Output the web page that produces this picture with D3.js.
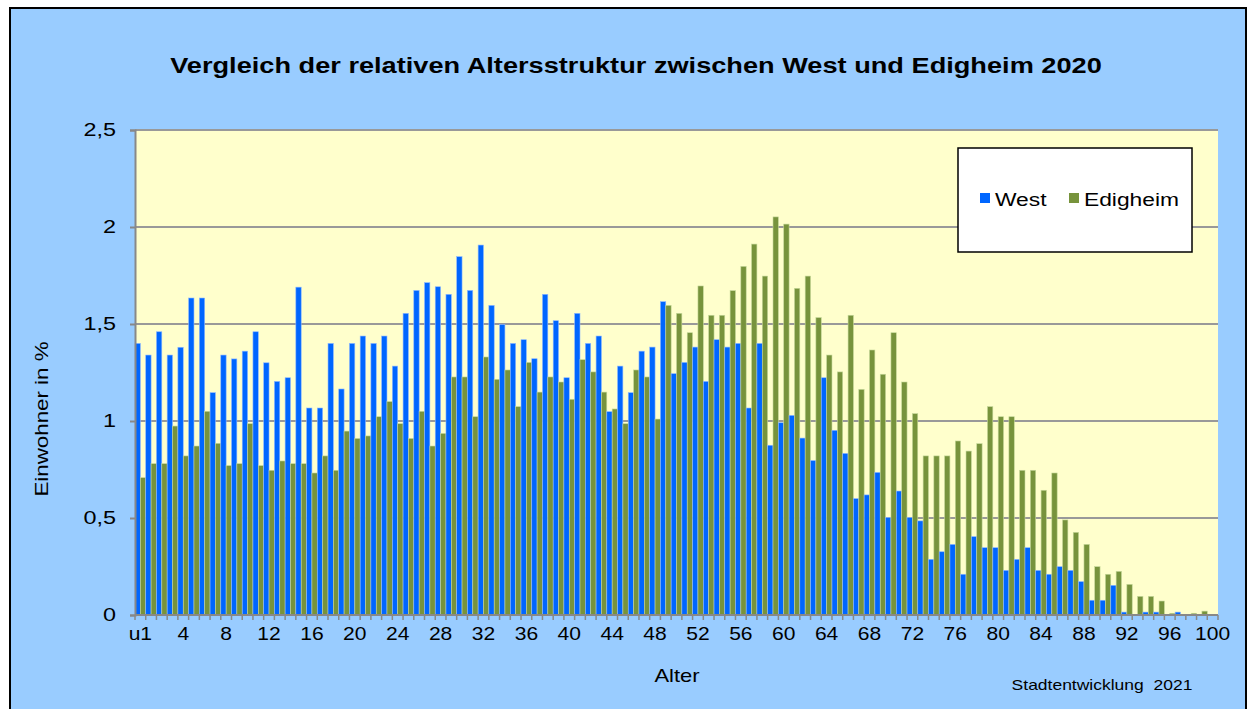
<!DOCTYPE html>
<html><head><meta charset="utf-8">
<script src="https://cdn.jsdelivr.net/npm/d3@7"></script>
<style>html,body{margin:0;padding:0;background:#fff;}svg{display:block;font-family:"Liberation Sans",Arial,sans-serif;}</style>
</head><body>
<script>
const categories = ["u1"].concat(d3.range(1, 101).map(String));
const seriesNames = ["West", "Edigheim"];
const west = [1.40,1.34,1.46,1.34,1.38, 1.634,1.634,1.146,1.34,1.32, 1.36,1.46,1.30,1.204,1.223, 1.69,1.067,1.067,1.40,1.165,
  1.40,1.438,1.40,1.438,1.283, 1.555,1.673,1.713,1.692,1.653, 1.847,1.673,1.907,1.596,1.497, 1.40,1.419,1.321,1.653,1.517,
  1.223,1.555,1.40,1.438,1.048, 1.283,1.146,1.36,1.381,1.615, 1.244,1.302,1.381,1.204,1.419, 1.381,1.40,1.067,1.40,0.875,
  0.991,1.029,0.912,0.796,1.223, 0.952,0.833,0.60,0.619,0.735, 0.502,0.639,0.502,0.485,0.287, 0.326,0.364,0.21,0.404,0.347,
  0.347,0.23,0.287,0.347,0.23, 0.21,0.249,0.23,0.172,0.076, 0.076,0.153,0.015,0,0.015, 0.015,0,0.015,0,0, 0];
const edigheim = [0.708,0.78,0.78,0.974,0.82, 0.871,1.05,0.885,0.77,0.78, 0.986,0.77,0.746,0.794,0.78, 0.78,0.732,0.82,0.746,0.948,
  0.91,0.923,1.022,1.10,0.986, 0.91,1.05,0.871,0.936,1.227, 1.227,1.022,1.33,1.215,1.263, 1.074,1.302,1.149,1.227,1.201,
  1.112,1.316,1.253,1.149,1.062, 0.986,1.263,1.227,1.01,1.596, 1.555,1.455,1.696,1.545,1.545, 1.672,1.797,1.912,1.747,2.052,
  2.015,1.684,1.747,1.533,1.34, 1.253,1.545,1.163,1.366,1.241, 1.455,1.201,1.038,0.82,0.82, 0.82,0.897,0.845,0.883,1.074,
  1.022,1.022,0.746,0.746,0.643, 0.732,0.49,0.426,0.364,0.249, 0.21,0.225,0.158,0.096,0.096, 0.072,0.009,0,0.009,0.02, 0];
const yTicks = [0, 0.5, 1, 1.5, 2, 2.5];
const colors = {"West": "#0066FF", "Edigheim": "#77933C"};

const W = 1253, H = 709;
const svg = d3.select("body").append("svg").attr("width", W).attr("height", H);

// stretch a text horizontally around its anchor point
function stretch(sel, f) {
  sel.each(function() {
    const t = d3.select(this);
    const x = +t.attr("x") || 0, yy = +t.attr("y") || 0;
    t.attr("transform", `translate(${x},${yy}) scale(${f},1) translate(${-x},${-yy})`);
  });
}

// outer frame
svg.append("rect").attr("x", 10).attr("y", 8).attr("width", 1236).attr("height", 712)
  .attr("fill", "#99CCFF").attr("stroke", "#000").attr("stroke-width", 2);

const L = 135, R = 1218, T = 130, B = 615;
const x = d3.scaleBand().domain(categories).range([L, R]).paddingInner(0).paddingOuter(0);
const xs = d3.scaleBand().domain(seriesNames).range([0, x.bandwidth()]).padding(0);
const y = d3.scaleLinear().domain([0, 2.5]).range([B, T]);

svg.append("rect").attr("x", L).attr("y", T).attr("width", R - L).attr("height", B - T).attr("fill", "#FFFFCC");

// gridlines
svg.append("g").selectAll("line").data(yTicks.filter(d => d > 0)).join("line")
  .attr("x1", L).attr("x2", R).attr("y1", d => y(d)).attr("y2", d => y(d))
  .attr("stroke", "#999").attr("stroke-width", 2);

// bars
const rows = categories.map((c, i) => ({c, vals: [{s: "West", v: west[i]}, {s: "Edigheim", v: edigheim[i]}]}));
const g = svg.append("g").selectAll("g").data(rows).join("g").attr("transform", d => `translate(${x(d.c)},0)`);
g.selectAll("rect").data(d => d.vals.filter(o => o.v > 0)).join("rect")
  .attr("x", o => xs(o.s)).attr("width", xs.bandwidth())
  .attr("y", o => y(o.v)).attr("height", o => B - y(o.v))
  .attr("fill", o => colors[o.s])
  .attr("stroke", o => o.s === "West" ? "#8fb8ff" : "#c6d89a").attr("stroke-width", 0.6);

// y axis
const yAxis = d3.axisLeft(y).tickValues(yTicks).tickSize(5).tickPadding(14)
  .tickFormat(d => String(d).replace(".", ","));
const ya = svg.append("g").attr("transform", `translate(${L},0)`).call(yAxis);
ya.select(".domain").attr("stroke", "#888").attr("stroke-width", 2);
ya.selectAll(".tick line").attr("stroke", "#888").attr("stroke-width", 2);
ya.selectAll("text").attr("font-size", 18).attr("fill", "#000").attr("font-family", "Liberation Sans, Arial, sans-serif");
stretch(ya.selectAll("text"), 1.3);

// x axis
const xAxis = d3.axisBottom(x).tickValues(categories.filter((c, i) => i % 4 === 0)).tickSize(0).tickPadding(12);
const xa = svg.append("g").attr("transform", `translate(0,${B})`).call(xAxis);
xa.select(".domain").remove();
xa.selectAll(".tick text").attr("font-size", 18).attr("fill", "#000").attr("font-family", "Liberation Sans, Arial, sans-serif");
xa.selectAll(".tick text").attr("transform", "scale(1.17,1)");
// tick marks at category boundaries
svg.append("g").selectAll("line").data(categories.concat(["__end"])).join("line")
  .attr("x1", (c, i) => i < categories.length ? x(c) : R).attr("x2", (c, i) => i < categories.length ? x(c) : R)
  .attr("y1", B).attr("y2", B + 5).attr("stroke", "#888").attr("stroke-width", 1.5);
svg.append("line").attr("x1", L).attr("x2", R).attr("y1", B).attr("y2", B).attr("stroke", "#888").attr("stroke-width", 2);

// titles
const title = svg.append("text").attr("x", 636).attr("y", 73).attr("text-anchor", "middle")
  .attr("font-size", 22).attr("font-weight", "bold").text("Vergleich der relativen Altersstruktur zwischen West und Edigheim 2020");
stretch(title, 1.235);
svg.append("text").attr("transform", "translate(48,419) rotate(-90) scale(1.24,1)").attr("text-anchor", "middle")
  .attr("font-size", 18).text("Einwohner in %");
const xt = svg.append("text").attr("x", 677).attr("y", 682).attr("text-anchor", "middle").attr("font-size", 18).text("Alter");
stretch(xt, 1.22);
const st = svg.append("text").attr("x", 1102).attr("y", 690).attr("text-anchor", "middle").attr("font-size", 14)
  .style("white-space", "pre").text("Stadtentwicklung  2021");
stretch(st, 1.25);

// legend
const lg = svg.append("g");
lg.append("rect").attr("x", 958).attr("y", 148).attr("width", 234).attr("height", 104)
  .attr("fill", "#fff").attr("stroke", "#000").attr("stroke-width", 1.5);
const items = [{s: "West", x: 980}, {s: "Edigheim", x: 1069}];
items.forEach(it => {
  lg.append("rect").attr("x", it.x).attr("y", 193).attr("width", 10).attr("height", 10).attr("fill", colors[it.s]);
  const t = lg.append("text").attr("x", it.x + 15).attr("y", 206).attr("font-size", 19).text(it.s);
  stretch(t, 1.2);
});
</script>
</body></html>
